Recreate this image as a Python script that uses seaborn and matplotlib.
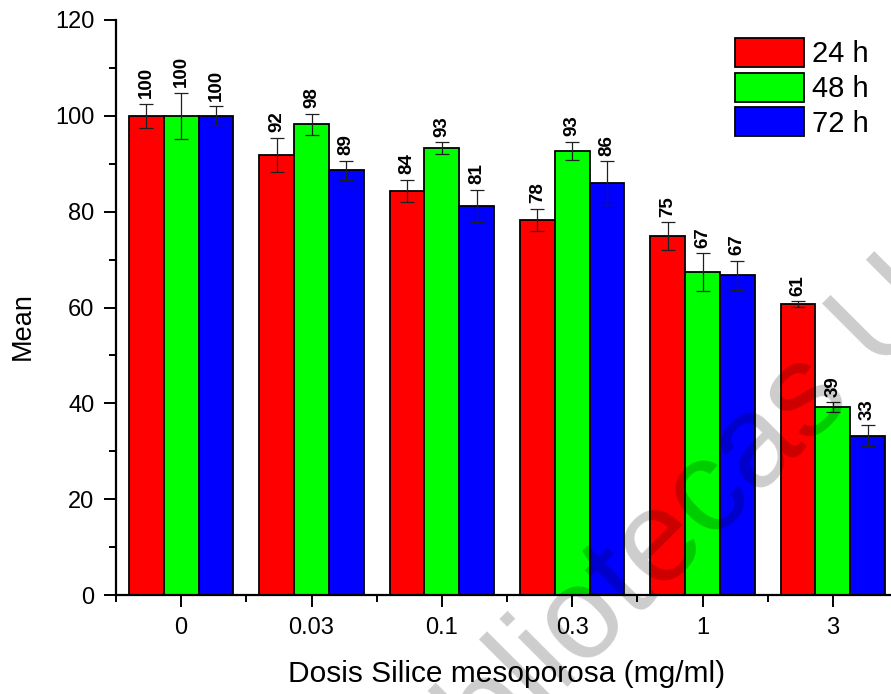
import matplotlib
matplotlib.use("Agg")
import matplotlib.pyplot as plt
import seaborn as sns
import pandas as pd
from matplotlib.ticker import MultipleLocator, FixedLocator

doses = ["0", "0.03", "0.1", "0.3", "1", "3"]
times = ["24 h", "48 h", "72 h"]
mean_24 = [100, 91.8, 84.4, 78.3, 74.9, 60.7]
mean_48 = [100, 98.2, 93.3, 92.7, 67.4, 39.2]
mean_72 = [100, 88.6, 81.2, 85.9, 66.7, 33.2]
err_24 = [2.5, 3.6, 2.3, 2.3, 2.9, 0.6]
err_48 = [4.8, 2.2, 1.2, 1.9, 3.9, 1.0]
err_72 = [2.0, 2.0, 3.4, 4.6, 3.0, 2.2]
colors = ["#ff0000", "#00ff00", "#0000ff"]

means = [mean_24, mean_48, mean_72]
errs = [err_24, err_48, err_72]

rows = []
for t, vals in zip(times, means):
    for d, v in zip(doses, vals):
        rows.append({"dose": d, "time": t, "mean": v})
df = pd.DataFrame(rows)

sns.set_style("ticks")
plt.rcParams["font.family"] = ["Liberation Sans", "DejaVu Sans"]
plt.rcParams.update({"text.color": "black", "axes.labelcolor": "black",
                     "xtick.color": "black", "ytick.color": "black",
                     "axes.edgecolor": "black"})

fig = plt.figure(figsize=(8.91, 6.94), dpi=100)
ax = fig.add_axes([116 / 891, 1 - 595 / 694, 782 / 891, 575 / 694])

sns.barplot(data=df, x="dose", y="mean", hue="time", order=doses, hue_order=times,
            palette=colors, edgecolor="black", linewidth=1.3, width=0.8,
            errorbar=None, saturation=1, ax=ax)

# error bars and value labels on the bars seaborn drew
for cont, err in zip(ax.containers, errs):
    xs = [b.get_x() + b.get_width() / 2 for b in cont]
    ys = [b.get_height() for b in cont]
    ax.errorbar(xs, ys, yerr=err, fmt="none", ecolor="#202020", elinewidth=0.9,
                capsize=5.3, capthick=0.9, zorder=5)
    for x, y, e in zip(xs, ys, err):
        ax.annotate(f"{y:.0f}", (x, y + e), xytext=(0, 4), textcoords="offset points",
                    rotation=90, ha="center", va="bottom", fontsize=13.5,
                    fontweight="bold", color="black")

ax.set_xlim(-0.5, 5.5)
ax.set_ylim(0, 120)
ax.yaxis.set_major_locator(MultipleLocator(20))
ax.yaxis.set_minor_locator(MultipleLocator(10))
ax.xaxis.set_minor_locator(FixedLocator([i - 0.5 for i in range(7)]))
ax.tick_params(which="major", length=8.6, width=1.4, labelsize=17, pad=7, direction="out")
ax.tick_params(which="minor", length=4.8, width=1.4, direction="out")
for s in ["left", "bottom"]:
    ax.spines[s].set_linewidth(1.6)
sns.despine(ax=ax)

ax.set_xlabel("Dosis Silice mesoporosa (mg/ml)", fontsize=21.5, labelpad=15)
ax.set_ylabel("Mean", fontsize=19.5)
ax.yaxis.set_label_coords(-0.102, 0.468)

ax.legend(loc="upper left", bbox_to_anchor=(735 / 891, 1 - 38 / 694),
          bbox_transform=fig.transFigure, frameon=False, fontsize=21,
          handlelength=2.35, handleheight=1.15, labelspacing=0.15,
          handletextpad=0.3, borderpad=0, borderaxespad=0)

# watermark
fig.text(658 / 891, 1 - 548 / 694, "bibliotecas U", rotation=45, fontsize=94,
         color="black", alpha=0.2, ha="center", va="center", rotation_mode="anchor",
         zorder=10)

plt.savefig("out.png", dpi=100)
